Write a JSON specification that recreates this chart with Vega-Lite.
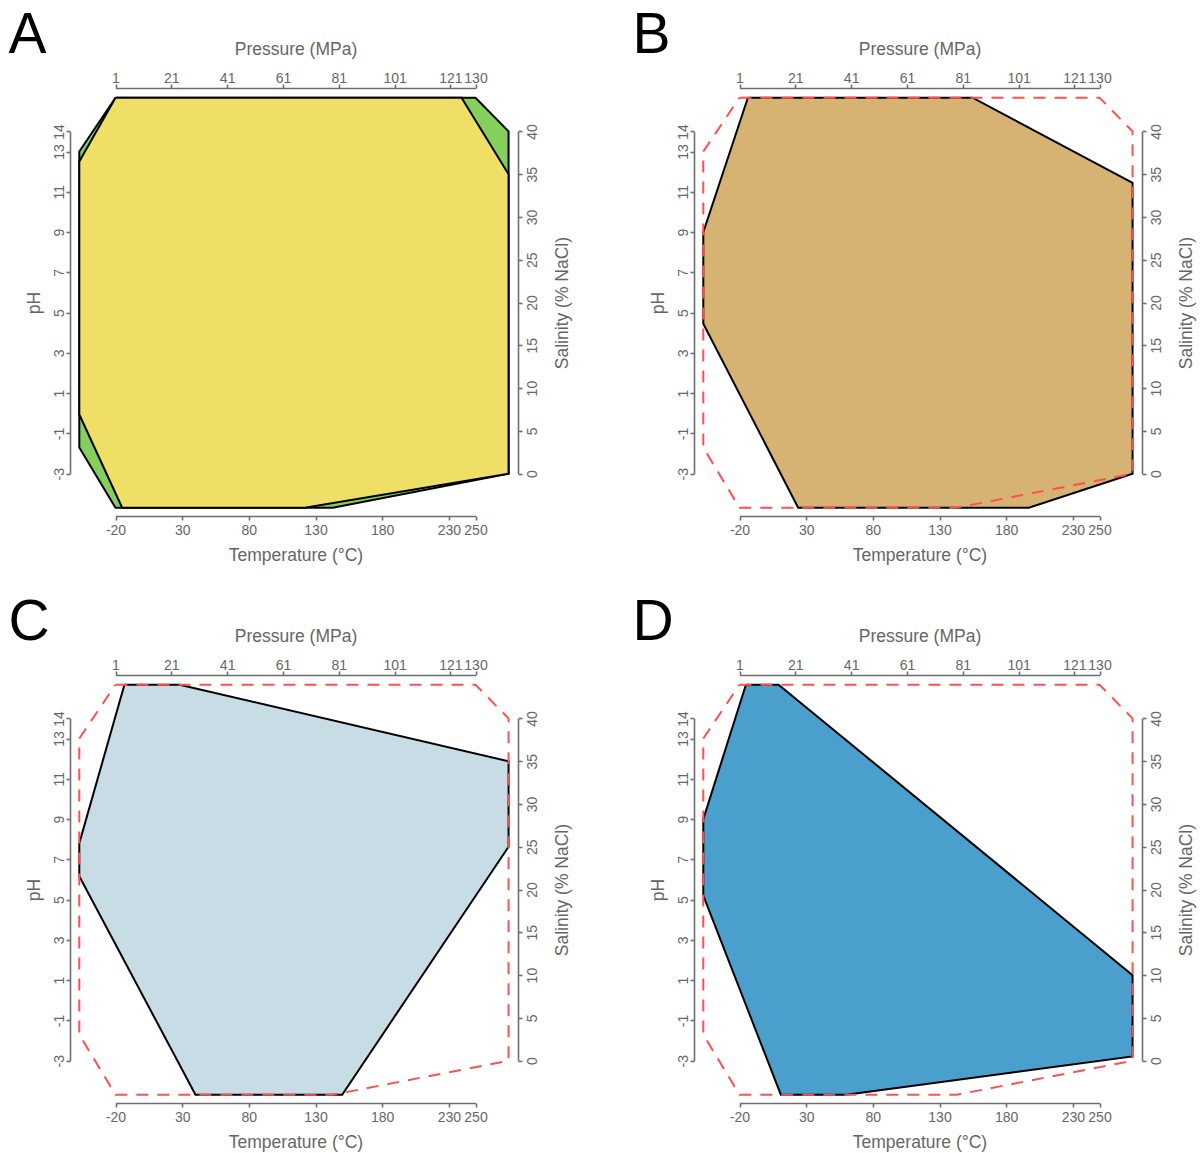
{
  "$schema": "https://vega.github.io/schema/vega-lite/v6.json",
  "padding": {"left": 8, "top": 6, "right": 5, "bottom": 5},
  "config": {
    "view": {"stroke": null},
    "font": "Liberation Sans",
    "axis": {"grid": false, "domainColor": "#6e6e6e", "domainWidth": 1.6, "tickColor": "#6e6e6e", "tickWidth": 1.6, "tickSize": 4, "labelColor": "#666666", "labelFont": "Liberation Sans", "labelFontSize": 14, "titleColor": "#666666", "titleFont": "Liberation Sans", "titleFontSize": 17.5, "titleFontWeight": "normal", "labelOverlap": false, "labelFlush": false, "labelBound": false, "labelExpr": "toString(datum.value)"},
    "title": {"font": "Liberation Sans", "fontSize": 57, "fontWeight": "normal", "color": "#000000", "anchor": "start", "frame": "bounds", "baseline": "alphabetic", "offset": 0, "dy": 27.8, "dx": -16.6}
  },
  "datasets": {
    "polygons": [
      {"shape": "range", "i": 1, "x": -20, "y": 15.674},
      {"shape": "range", "i": 2, "x": 250, "y": 15.674},
      {"shape": "range", "i": 3, "x": 274.8, "y": 14},
      {"shape": "range", "i": 4, "x": 274.8, "y": -3},
      {"shape": "range", "i": 5, "x": 143, "y": -4.689},
      {"shape": "range", "i": 6, "x": -20, "y": -4.689},
      {"shape": "range", "i": 7, "x": -47.15, "y": -1.7},
      {"shape": "range", "i": 8, "x": -47.15, "y": 13},
      {"shape": "range", "i": 9, "x": -20, "y": 15.674},
      {"shape": "known", "i": 1, "x": -20, "y": 15.674},
      {"shape": "known", "i": 2, "x": 239.53, "y": 15.674},
      {"shape": "known", "i": 3, "x": 274.8, "y": 11.875},
      {"shape": "known", "i": 4, "x": 274.8, "y": -3},
      {"shape": "known", "i": 5, "x": 122, "y": -4.689},
      {"shape": "known", "i": 6, "x": -15, "y": -4.689},
      {"shape": "known", "i": 7, "x": -47.15, "y": -0.06},
      {"shape": "known", "i": 8, "x": -47.15, "y": 12.5},
      {"shape": "known", "i": 9, "x": -20, "y": 15.674},
      {"shape": "B", "i": 1, "x": -13.72, "y": 15.674},
      {"shape": "B", "i": 2, "x": 154.77, "y": 15.674},
      {"shape": "B", "i": 3, "x": 274.8, "y": 11.45},
      {"shape": "B", "i": 4, "x": 274.8, "y": -3},
      {"shape": "B", "i": 5, "x": 197, "y": -4.689},
      {"shape": "B", "i": 6, "x": 24, "y": -4.689},
      {"shape": "B", "i": 7, "x": -47.15, "y": 4.45},
      {"shape": "B", "i": 8, "x": -47.15, "y": 9},
      {"shape": "B", "i": 9, "x": -13.72, "y": 15.674},
      {"shape": "C", "i": 1, "x": -13.3, "y": 15.674},
      {"shape": "C", "i": 2, "x": 28.14, "y": 15.674},
      {"shape": "C", "i": 3, "x": 274.8, "y": 11.875},
      {"shape": "C", "i": 4, "x": 274.8, "y": 7.625},
      {"shape": "C", "i": 5, "x": 150, "y": -4.689},
      {"shape": "C", "i": 6, "x": 40, "y": -4.689},
      {"shape": "C", "i": 7, "x": -47.15, "y": 6.16},
      {"shape": "C", "i": 8, "x": -47.15, "y": 7.8},
      {"shape": "C", "i": 9, "x": -13.3, "y": 15.674},
      {"shape": "D", "i": 1, "x": -15.19, "y": 15.674},
      {"shape": "D", "i": 2, "x": 9.3, "y": 15.674},
      {"shape": "D", "i": 3, "x": 274.8, "y": 1.25},
      {"shape": "D", "i": 4, "x": 274.8, "y": -2.79},
      {"shape": "D", "i": 5, "x": 60, "y": -4.689},
      {"shape": "D", "i": 6, "x": 11, "y": -4.689},
      {"shape": "D", "i": 7, "x": -47.15, "y": 5.2},
      {"shape": "D", "i": 8, "x": -47.15, "y": 9},
      {"shape": "D", "i": 9, "x": -15.19, "y": 15.674}
    ]
  },
  "data": {"name": "polygons"},
  "columns": 2,
  "spacing": {"row": 29, "column": 61},
  "concat": [
    {
      "title": "A",
      "width": 448, "height": 428,
      "layer": [
        {
          "encoding": {
            "x": {"field": "x", "type": "quantitative", "scale": {"domain": [-20, 250], "range": [45.5, 405.5], "nice": false, "zero": false}, "axis": {"orient": "bottom", "title": "Temperature (°C)", "values": [-20, 30, 80, 130, 180, 230, 250], "labelPadding": 3.5, "titlePadding": 8.6}},
            "y": {"field": "y", "type": "quantitative", "scale": {"domain": [-3, 14], "range": [385.7, 43.4], "nice": false, "zero": false}, "axis": {"orient": "left", "title": "pH", "values": [-3, -1, 1, 3, 5, 7, 9, 11, 13, 14], "labelAngle": 270, "labelAlign": "center", "labelBaseline": "bottom", "labelPadding": 0, "titlePadding": 9}},
            "order": {"field": "i", "type": "quantitative"}
          },
          "layer": [
            {"transform": [{"filter": "datum.shape === 'range'"}], "mark": {"type": "line", "fill": "#86cf5c", "stroke": "#000000", "strokeWidth": 2, "strokeJoin": "miter"}},
            {"transform": [{"filter": "datum.shape === 'known'"}], "mark": {"type": "line", "fill": "#f0df66", "stroke": "#000000", "strokeWidth": 2, "strokeJoin": "miter"}}
          ]
        },
        {
          "mark": {"type": "point", "opacity": 0},
          "encoding": {
            "x": {"datum": 1, "type": "quantitative", "scale": {"domain": [1, 130], "range": [45.5, 405.5], "nice": false, "zero": false}, "axis": {"orient": "top", "title": "Pressure (MPa)", "values": [1, 21, 41, 61, 81, 101, 121, 130], "labelPadding": -1, "titlePadding": 12.3}},
            "y": {"datum": 0, "type": "quantitative", "scale": {"domain": [0, 40], "range": [385.7, 43.4], "nice": false, "zero": false}, "axis": {"orient": "right", "title": "Salinity (% NaCl)", "values": [0, 5, 10, 15, 20, 25, 30, 35, 40], "labelAngle": 270, "labelAlign": "center", "labelBaseline": "top", "labelPadding": 3.5, "titleAngle": 270, "titleBaseline": "top", "titlePadding": 13.5}}
          }
        }
      ],
      "resolve": {"scale": {"x": "independent", "y": "independent"}}
    },
    {
      "title": "B",
      "width": 448, "height": 428,
      "layer": [
        {
          "encoding": {
            "x": {"field": "x", "type": "quantitative", "scale": {"domain": [-20, 250], "range": [45.5, 405.5], "nice": false, "zero": false}, "axis": {"orient": "bottom", "title": "Temperature (°C)", "values": [-20, 30, 80, 130, 180, 230, 250], "labelPadding": 3.5, "titlePadding": 8.6}},
            "y": {"field": "y", "type": "quantitative", "scale": {"domain": [-3, 14], "range": [385.7, 43.4], "nice": false, "zero": false}, "axis": {"orient": "left", "title": "pH", "values": [-3, -1, 1, 3, 5, 7, 9, 11, 13, 14], "labelAngle": 270, "labelAlign": "center", "labelBaseline": "bottom", "labelPadding": 0, "titlePadding": 9}},
            "order": {"field": "i", "type": "quantitative"}
          },
          "layer": [
            {"transform": [{"filter": "datum.shape === 'B'"}], "mark": {"type": "line", "fill": "#d6b273", "stroke": "#000000", "strokeWidth": 2, "strokeJoin": "miter"}},
            {"transform": [{"filter": "datum.shape === 'range'"}], "mark": {"type": "line", "stroke": "#ff4f4f", "strokeWidth": 2, "strokeDash": [12, 9], "strokeJoin": "miter"}}
          ]
        },
        {
          "mark": {"type": "point", "opacity": 0},
          "encoding": {
            "x": {"datum": 1, "type": "quantitative", "scale": {"domain": [1, 130], "range": [45.5, 405.5], "nice": false, "zero": false}, "axis": {"orient": "top", "title": "Pressure (MPa)", "values": [1, 21, 41, 61, 81, 101, 121, 130], "labelPadding": -1, "titlePadding": 12.3}},
            "y": {"datum": 0, "type": "quantitative", "scale": {"domain": [0, 40], "range": [385.7, 43.4], "nice": false, "zero": false}, "axis": {"orient": "right", "title": "Salinity (% NaCl)", "values": [0, 5, 10, 15, 20, 25, 30, 35, 40], "labelAngle": 270, "labelAlign": "center", "labelBaseline": "top", "labelPadding": 3.5, "titleAngle": 270, "titleBaseline": "top", "titlePadding": 13.5}}
          }
        }
      ],
      "resolve": {"scale": {"x": "independent", "y": "independent"}}
    },
    {
      "title": "C",
      "width": 448, "height": 428,
      "layer": [
        {
          "encoding": {
            "x": {"field": "x", "type": "quantitative", "scale": {"domain": [-20, 250], "range": [45.5, 405.5], "nice": false, "zero": false}, "axis": {"orient": "bottom", "title": "Temperature (°C)", "values": [-20, 30, 80, 130, 180, 230, 250], "labelPadding": 3.5, "titlePadding": 8.6}},
            "y": {"field": "y", "type": "quantitative", "scale": {"domain": [-3, 14], "range": [385.7, 43.4], "nice": false, "zero": false}, "axis": {"orient": "left", "title": "pH", "values": [-3, -1, 1, 3, 5, 7, 9, 11, 13, 14], "labelAngle": 270, "labelAlign": "center", "labelBaseline": "bottom", "labelPadding": 0, "titlePadding": 9}},
            "order": {"field": "i", "type": "quantitative"}
          },
          "layer": [
            {"transform": [{"filter": "datum.shape === 'C'"}], "mark": {"type": "line", "fill": "#c8dce5", "stroke": "#000000", "strokeWidth": 2, "strokeJoin": "miter"}},
            {"transform": [{"filter": "datum.shape === 'range'"}], "mark": {"type": "line", "stroke": "#ff4f4f", "strokeWidth": 2, "strokeDash": [12, 9], "strokeJoin": "miter"}}
          ]
        },
        {
          "mark": {"type": "point", "opacity": 0},
          "encoding": {
            "x": {"datum": 1, "type": "quantitative", "scale": {"domain": [1, 130], "range": [45.5, 405.5], "nice": false, "zero": false}, "axis": {"orient": "top", "title": "Pressure (MPa)", "values": [1, 21, 41, 61, 81, 101, 121, 130], "labelPadding": -1, "titlePadding": 12.3}},
            "y": {"datum": 0, "type": "quantitative", "scale": {"domain": [0, 40], "range": [385.7, 43.4], "nice": false, "zero": false}, "axis": {"orient": "right", "title": "Salinity (% NaCl)", "values": [0, 5, 10, 15, 20, 25, 30, 35, 40], "labelAngle": 270, "labelAlign": "center", "labelBaseline": "top", "labelPadding": 3.5, "titleAngle": 270, "titleBaseline": "top", "titlePadding": 13.5}}
          }
        }
      ],
      "resolve": {"scale": {"x": "independent", "y": "independent"}}
    },
    {
      "title": "D",
      "width": 448, "height": 428,
      "layer": [
        {
          "encoding": {
            "x": {"field": "x", "type": "quantitative", "scale": {"domain": [-20, 250], "range": [45.5, 405.5], "nice": false, "zero": false}, "axis": {"orient": "bottom", "title": "Temperature (°C)", "values": [-20, 30, 80, 130, 180, 230, 250], "labelPadding": 3.5, "titlePadding": 8.6}},
            "y": {"field": "y", "type": "quantitative", "scale": {"domain": [-3, 14], "range": [385.7, 43.4], "nice": false, "zero": false}, "axis": {"orient": "left", "title": "pH", "values": [-3, -1, 1, 3, 5, 7, 9, 11, 13, 14], "labelAngle": 270, "labelAlign": "center", "labelBaseline": "bottom", "labelPadding": 0, "titlePadding": 9}},
            "order": {"field": "i", "type": "quantitative"}
          },
          "layer": [
            {"transform": [{"filter": "datum.shape === 'D'"}], "mark": {"type": "line", "fill": "#4a9fcc", "stroke": "#000000", "strokeWidth": 2, "strokeJoin": "miter"}},
            {"transform": [{"filter": "datum.shape === 'range'"}], "mark": {"type": "line", "stroke": "#ff4f4f", "strokeWidth": 2, "strokeDash": [12, 9], "strokeJoin": "miter"}}
          ]
        },
        {
          "mark": {"type": "point", "opacity": 0},
          "encoding": {
            "x": {"datum": 1, "type": "quantitative", "scale": {"domain": [1, 130], "range": [45.5, 405.5], "nice": false, "zero": false}, "axis": {"orient": "top", "title": "Pressure (MPa)", "values": [1, 21, 41, 61, 81, 101, 121, 130], "labelPadding": -1, "titlePadding": 12.3}},
            "y": {"datum": 0, "type": "quantitative", "scale": {"domain": [0, 40], "range": [385.7, 43.4], "nice": false, "zero": false}, "axis": {"orient": "right", "title": "Salinity (% NaCl)", "values": [0, 5, 10, 15, 20, 25, 30, 35, 40], "labelAngle": 270, "labelAlign": "center", "labelBaseline": "top", "labelPadding": 3.5, "titleAngle": 270, "titleBaseline": "top", "titlePadding": 13.5}}
          }
        }
      ],
      "resolve": {"scale": {"x": "independent", "y": "independent"}}
    }
  ]
}
